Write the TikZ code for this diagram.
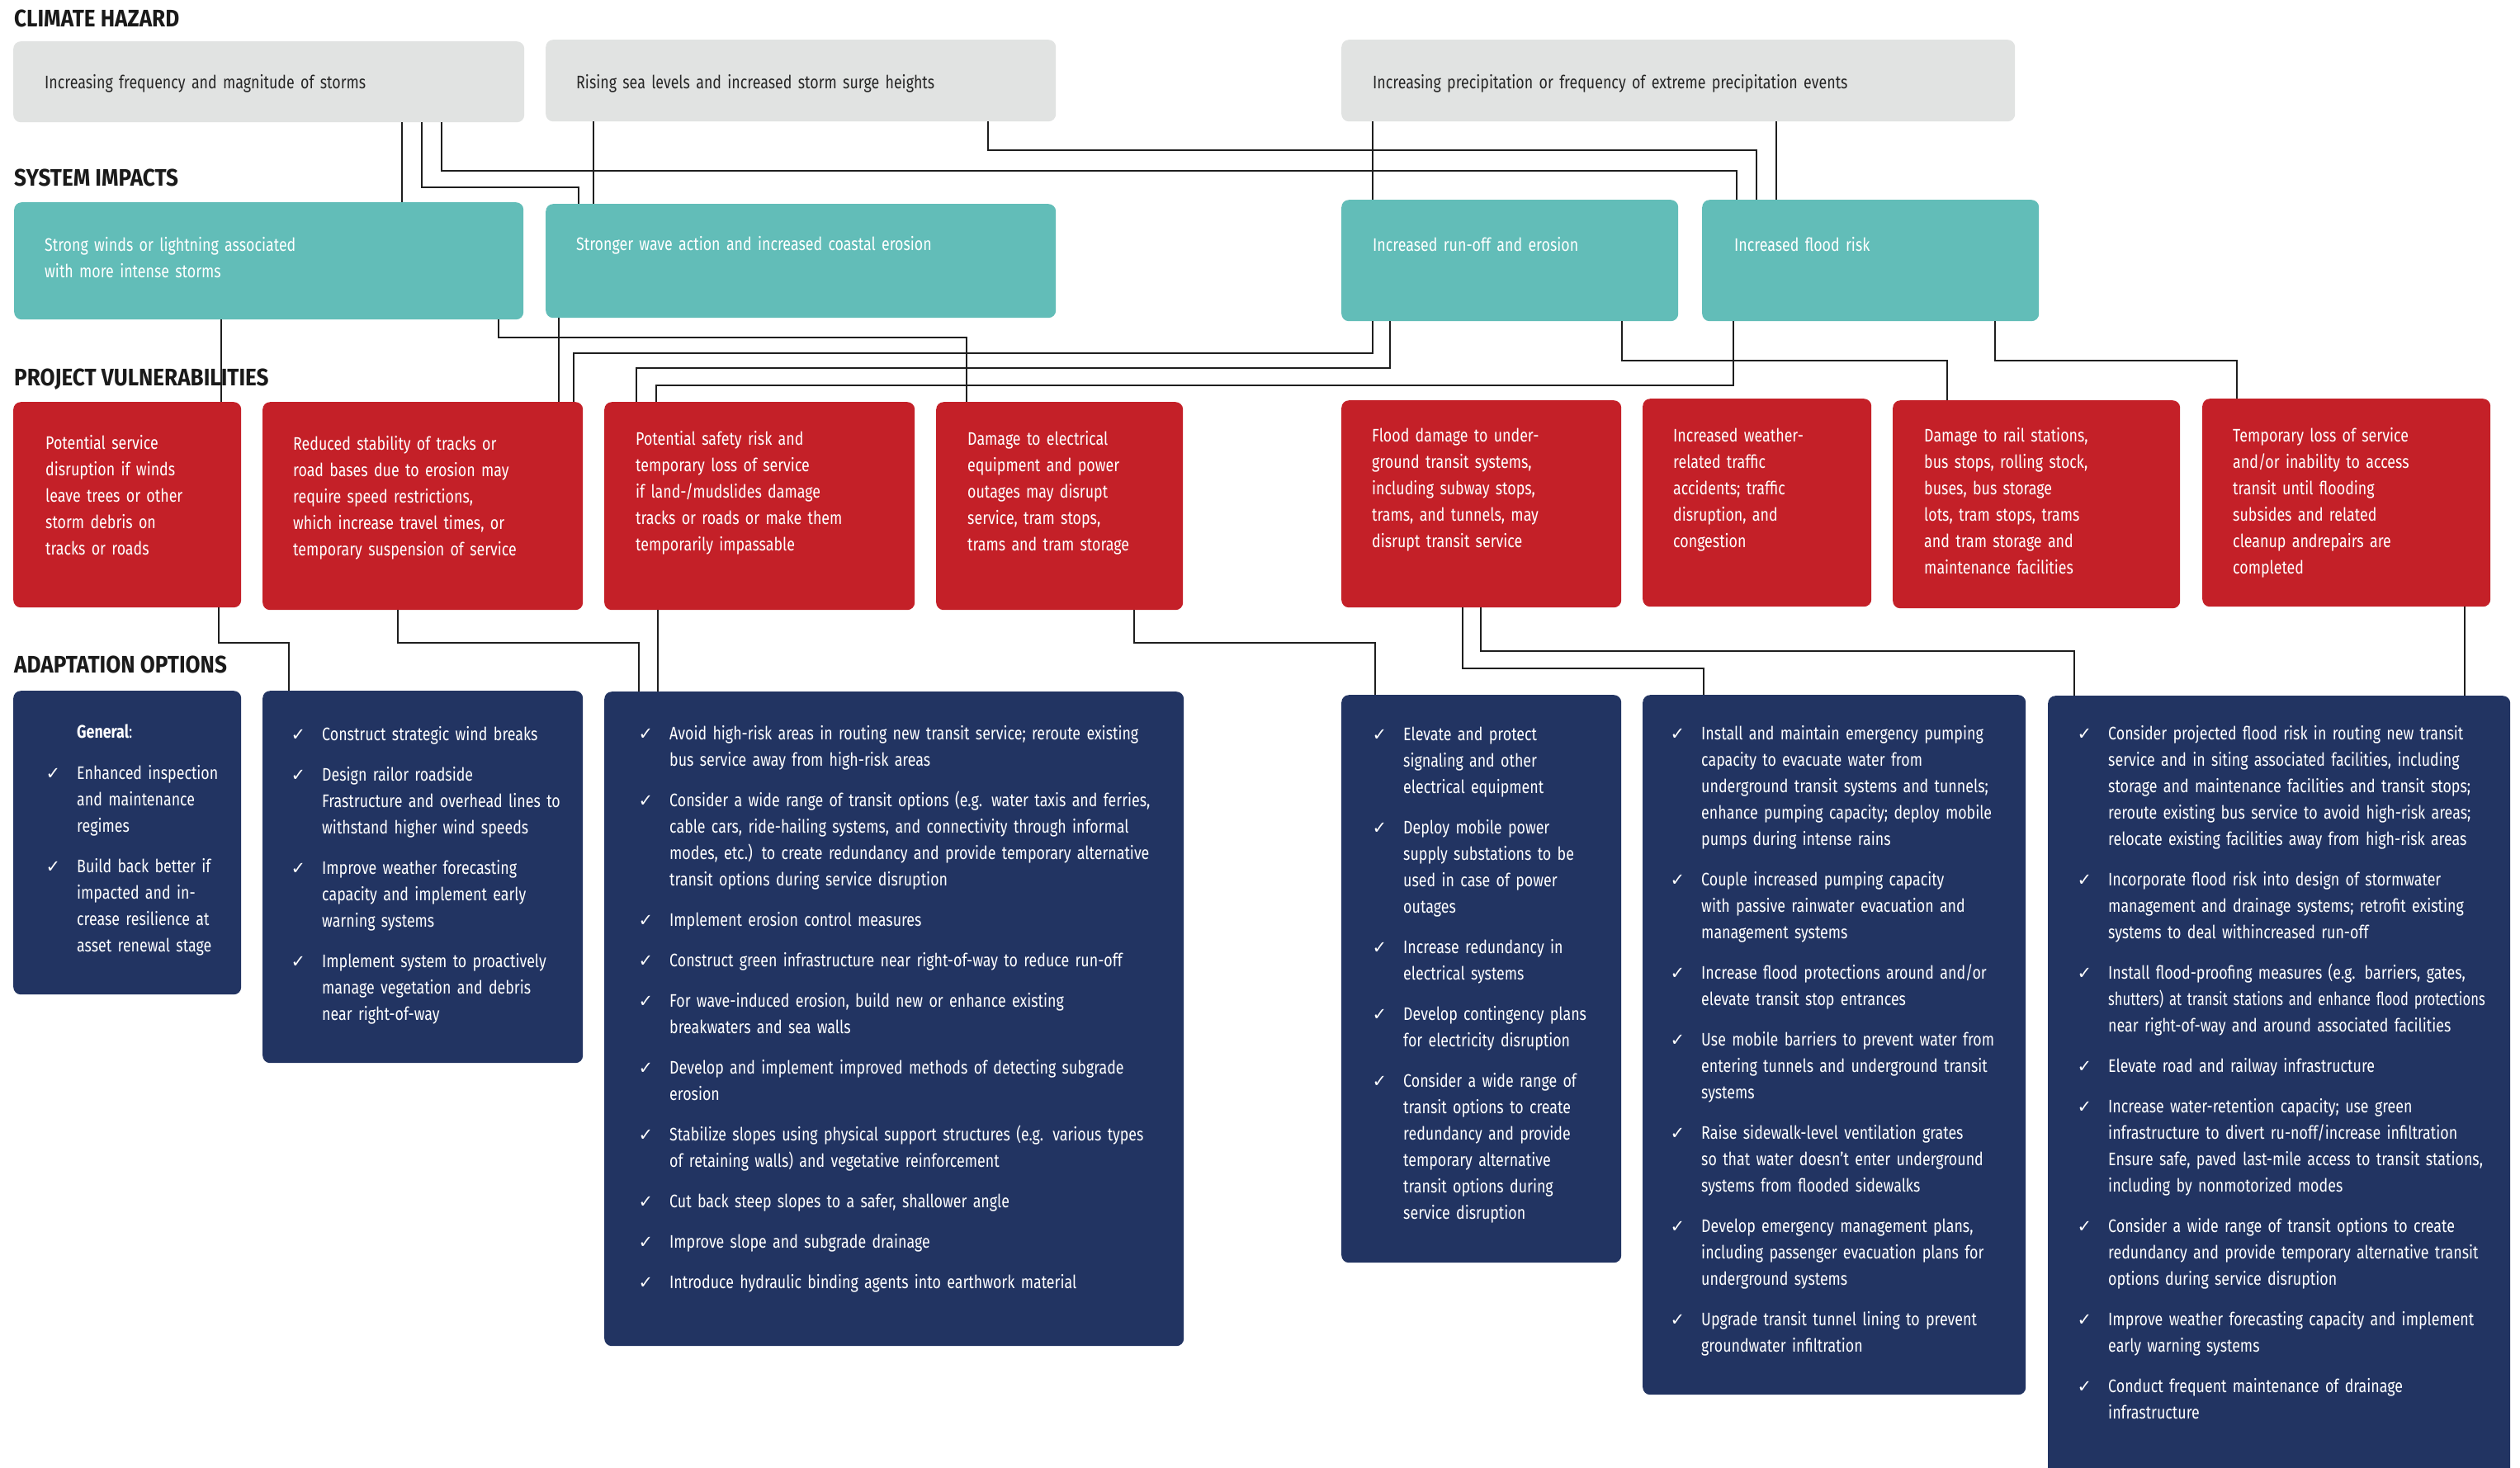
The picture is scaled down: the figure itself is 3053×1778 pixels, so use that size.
\documentclass[tikz,border=0pt]{standalone}
\usepackage{fontspec}
\usepackage{graphicx}
\setmainfont{Fira Sans}[FakeStretch=0.81]
\newfontfamily\hfont{Fira Sans}[FakeStretch=0.9]
\newfontfamily\ckfont{DejaVu Sans}
\definecolor{hazgray}{HTML}{E1E3E2}
\definecolor{impteal}{HTML}{62BDB8}
\definecolor{vulred}{HTML}{C42028}
\definecolor{adnavy}{HTML}{223462}
\definecolor{linedark}{HTML}{1E1E1E}
\definecolor{txtdark}{HTML}{262626}
\definecolor{headdark}{HTML}{1A1A1A}
\hyphenpenalty=10000
\exhyphenpenalty=10000
\newcommand\ck{\leavevmode\llap{{\ckfont\fontsize{21}{21}\selectfont ✓}\hspace{20pt}}}
\tikzset{
  box/.style={rectangle, rounded corners=9pt, draw=none, anchor=north west, inner sep=0pt},
  gbox/.style={box, fill=hazgray},
  tbox/.style={box, fill=impteal},
  rbox/.style={box, fill=vulred},
  abox/.style={box, fill=adnavy},
  head/.style={anchor=base west, inner sep=0pt, font=\hfont\bfseries\fontsize{29}{29}\selectfont, text=headdark},
  txt/.style={anchor=base west, inner sep=0pt, align=left, font=\fontsize{22}{32}\selectfont},
  wtxt/.style={txt, text=white},
  dtxt/.style={txt, text=txtdark},
  conn/.style={draw=linedark, line width=2pt},
}
\begin{document}
\begin{tikzpicture}[x=1pt, y=-1pt]
\clip (0,0) rectangle (3053,1778);
\fill[white] (0,0) rectangle (3053,1778);

% headings
\node[head] (h1) at (17,32) {CLIMATE HAZARD};
\node[head] (h2) at (17,225) {SYSTEM IMPACTS};
\node[head] (h3) at (17,467) {PROJECT VULNERABILITIES};
\node[head] (h4) at (17,815) {ADAPTATION OPTIONS};

% climate hazard
\node[gbox, minimum width=619pt, minimum height=98pt] (g1) at (16,50) {};
\node[gbox, minimum width=618pt, minimum height=99pt] (g2) at (661,48) {};
\node[gbox, minimum width=816pt, minimum height=99pt] (g3) at (1625,48) {};
\node[dtxt, text width=560pt] (g1t) at (54,107) {Increasing frequency and magnitude of storms};
\node[dtxt, text width=560pt] (g2t) at (698,107) {Rising sea levels and increased storm surge heights};
\node[dtxt, text width=760pt] (g3t) at (1663,107) {Increasing precipitation or frequency of extreme precipitation events};

% system impacts
\node[tbox, minimum width=617pt, minimum height=142pt] (t1) at (17,245) {};
\node[tbox, minimum width=618pt, minimum height=138pt] (t2) at (661,247) {};
\node[tbox, minimum width=408pt, minimum height=147pt] (t3) at (1625,242) {};
\node[tbox, minimum width=408pt, minimum height=147pt] (t4) at (2062,242) {};
\node[wtxt, text width=560pt] (t1t) at (54,304) {Strong winds or lightning associated\\with more intense storms};
\node[wtxt, text width=560pt] (t2t) at (698,303) {Stronger wave action and increased coastal erosion};
\node[wtxt, text width=360pt] (t3t) at (1663,304) {Increased run-off and erosion};
\node[wtxt, text width=360pt] (t4t) at (2101,304) {Increased flood risk};

% project vulnerabilities
\node[rbox, minimum width=276pt, minimum height=249pt] (r1) at (16,487) {};
\node[rbox, minimum width=388pt, minimum height=252pt] (r2) at (318,487) {};
\node[rbox, minimum width=376pt, minimum height=252pt] (r3) at (732,487) {};
\node[rbox, minimum width=299pt, minimum height=252pt] (r4) at (1134,487) {};
\node[rbox, minimum width=339pt, minimum height=251pt] (r5) at (1625,485) {};
\node[rbox, minimum width=277pt, minimum height=252pt] (r6) at (1990,483) {};
\node[rbox, minimum width=348pt, minimum height=252pt] (r7) at (2293,485) {};
\node[rbox, minimum width=349pt, minimum height=252pt] (r8) at (2668,483) {};
\node[wtxt, text width=232pt] (r1t) at (55,544) {Potential service\\disruption if winds\\leave trees or other\\storm debris on\\tracks or roads};
\node[wtxt, text width=345pt] (r2t) at (355,545) {Reduced stability of tracks or\\road bases due to erosion may\\require speed restrictions,\\which increase travel times, or\\temporary suspension of service};
\node[wtxt, text width=335pt] (r3t) at (770,539) {Potential safety risk and\\temporary loss of service\\if land-/mudslides damage\\tracks or roads or make them\\temporarily impassable};
\node[wtxt, text width=258pt] (r4t) at (1172,539) {Damage to electrical\\equipment and power\\outages may disrupt\\service, tram stops,\\trams and tram storage};
\node[wtxt, text width=300pt] (r5t) at (1662,535) {Flood damage to under-\\ground transit systems,\\including subway stops,\\trams, and tunnels, may\\disrupt transit service};
\node[wtxt, text width=238pt] (r6t) at (2027,535) {Increased weather-\\related traffic\\accidents; traffic\\disruption, and\\congestion};
\node[wtxt, text width=308pt] (r7t) at (2331,535) {Damage to rail stations,\\bus stops, rolling stock,\\buses, bus storage\\lots, tram stops, trams\\and tram storage and\\maintenance facilities};
\node[wtxt, text width=310pt] (r8t) at (2705,535) {Temporary loss of service\\and/or inability to access\\transit until flooding\\subsides and related\\cleanup andrepairs are\\completed};

% adaptation options
\node[abox, minimum width=276pt, minimum height=368pt] (a1) at (16,837) {};
\node[abox, minimum width=388pt, minimum height=451pt] (a2) at (318,837) {};
\node[abox, minimum width=702pt, minimum height=793pt] (a3) at (732,838) {};
\node[abox, minimum width=339pt, minimum height=688pt] (a4) at (1625,842) {};
\node[abox, minimum width=464pt, minimum height=848pt] (a5) at (1990,842) {};
\node[abox, minimum width=560pt, minimum height=1000pt] (a6) at (2481,843) {};

\node[wtxt, text width=196pt] (a1t) at (93,894) {\textbf{General}:\\[18pt]
\ck Enhanced inspection\\and maintenance\\regimes\\[17pt]
\ck Build back better if\\impacted and in-\\crease resilience at\\asset renewal stage};

\node[wtxt, text width=312pt] (a2t) at (390,897) {\ck Construct strategic wind breaks\\[17pt]
\ck Design railor roadside\\Frastructure and overhead lines to\\withstand higher wind speeds\\[17pt]
\ck Improve weather forecasting\\capacity and implement early\\warning systems\\[17pt]
\ck Implement system to proactively\\manage vegetation and debris\\near right-of-way};

\node[wtxt, text width=620pt] (a3t) at (811,896) {\ck Avoid high-risk areas in routing new transit service; reroute existing\\bus service away from high-risk areas\\[17pt]
\ck Consider a wide range of transit options (e.g. water taxis and ferries,\\cable cars, ride-hailing systems, and connectivity through informal\\modes, etc.) to create redundancy and provide temporary alternative\\transit options during service disruption\\[17pt]
\ck Implement erosion control measures\\[17pt]
\ck Construct green infrastructure near right-of-way to reduce run-off\\[17pt]
\ck For wave-induced erosion, build new or enhance existing\\breakwaters and sea walls\\[17pt]
\ck Develop and implement improved methods of detecting subgrade\\erosion\\[17pt]
\ck Stabilize slopes using physical support structures (e.g. various types\\of retaining walls) and vegetative reinforcement\\[17pt]
\ck Cut back steep slopes to a safer, shallower angle\\[17pt]
\ck Improve slope and subgrade drainage\\[17pt]
\ck Introduce hydraulic binding agents into earthwork material};

\node[wtxt, text width=262pt] (a4t) at (1700,897) {\ck Elevate and protect\\signaling and other\\electrical equipment\\[17pt]
\ck Deploy mobile power\\supply substations to be\\used in case of power\\outages\\[17pt]
\ck Increase redundancy in\\electrical systems\\[17pt]
\ck Develop contingency plans\\for electricity disruption\\[17pt]
\ck Consider a wide range of\\transit options to create\\redundancy and provide\\temporary alternative\\transit options during\\service disruption};

\node[wtxt, text width=392pt] (a5t) at (2061,896) {\ck Install and maintain emergency pumping\\capacity to evacuate water from\\underground transit systems and tunnels;\\enhance pumping capacity; deploy mobile\\pumps during intense rains\\[17pt]
\ck Couple increased pumping capacity\\with passive rainwater evacuation and\\management systems\\[17pt]
\ck Increase flood protections around and/or\\elevate transit stop entrances\\[17pt]
\ck Use mobile barriers to prevent water from\\entering tunnels and underground transit\\systems\\[17pt]
\ck Raise sidewalk-level ventilation grates\\so that water doesn’t enter underground\\systems from flooded sidewalks\\[17pt]
\ck Develop emergency management plans,\\including passenger evacuation plans for\\underground systems\\[17pt]
\ck Upgrade transit tunnel lining to prevent\\groundwater infiltration};

\node[wtxt, text width=480pt] (a6t) at (2554,896) {\ck Consider projected flood risk in routing new transit\\service and in siting associated facilities, including\\storage and maintenance facilities and transit stops;\\reroute existing bus service to avoid high-risk areas;\\relocate existing facilities away from high-risk areas\\[17pt]
\ck Incorporate flood risk into design of stormwater\\management and drainage systems; retrofit existing\\systems to deal withincreased run-off\\[17pt]
\ck Install flood-proofing measures (e.g. barriers, gates,\\\scalebox{0.93}[1]{shutters) at transit stations and enhance flood protections}\\near right-of-way and around associated facilities\\[17pt]
\ck Elevate road and railway infrastructure\\[17pt]
\ck Increase water-retention capacity; use green\\infrastructure to divert ru-noff/increase infiltration\\Ensure safe, paved last-mile access to transit stations,\\including by nonmotorized modes\\[17pt]
\ck Consider a wide range of transit options to create\\redundancy and provide temporary alternative transit\\options during service disruption\\[17pt]
\ck Improve weather forecasting capacity and implement\\early warning systems\\[17pt]
\ck Conduct frequent maintenance of drainage\\infrastructure};

% connectors: hazards -> impacts
\draw[conn] (g1.south -| 487,0) -- (t1.north -| 487,0);
\draw[conn] (g1.south -| 511,0) |- (701,227) -- (t2.north -| 701,0);
\draw[conn] (g1.south -| 535,0) |- (2104,207) -- (t4.north -| 2104,0);
\draw[conn] (g2.south -| 719,0) -- (t2.north -| 719,0);
\draw[conn] (g2.south -| 1197,0) |- (2128,182) -- (t4.north -| 2128,0);
\draw[conn] (g3.south -| 1663,0) -- (t3.north -| 1663,0);
\draw[conn] (g3.south -| 2152,0) -- (t4.north -| 2152,0);
% impacts -> vulnerabilities
\draw[conn] (t1.south -| 268,0) -- (r1.north -| 268,0);
\draw[conn] (t1.south -| 604,0) |- (1171,409) -- (r4.north -| 1171,0);
\draw[conn] (t2.south -| 677,0) -- (r2.north -| 677,0);
\draw[conn] (t3.south -| 1663,0) |- (695,428) -- (r2.north -| 695,0);
\draw[conn] (t3.south -| 1684,0) |- (771,446) -- (r3.north -| 771,0);
\draw[conn] (t4.south -| 2100,0) |- (795,467) -- (r3.north -| 795,0);
\draw[conn] (t3.south -| 1965,0) |- (2359,437) -- (r7.north -| 2359,0);
\draw[conn] (t4.south -| 2417,0) |- (2710,437) -- (r8.north -| 2710,0);
% vulnerabilities -> adaptation
\draw[conn] (r1.south -| 265,0) |- (350,779) -- (a2.north -| 350,0);
\draw[conn] (r2.south -| 482,0) |- (774,779) -- (a3.north -| 774,0);
\draw[conn] (r3.south -| 797,0) -- (a3.north -| 797,0);
\draw[conn] (r4.south -| 1374,0) |- (1666,779) -- (a4.north -| 1666,0);
\draw[conn] (r5.south -| 1772,0) |- (2064,810) -- (a5.north -| 2064,0);
\draw[conn] (r5.south -| 1794,0) |- (2513,789) -- (a6.north -| 2513,0);
\draw[conn] (r8.south -| 2986,0) -- (a6.north -| 2986,0);
\end{tikzpicture}
\end{document}
